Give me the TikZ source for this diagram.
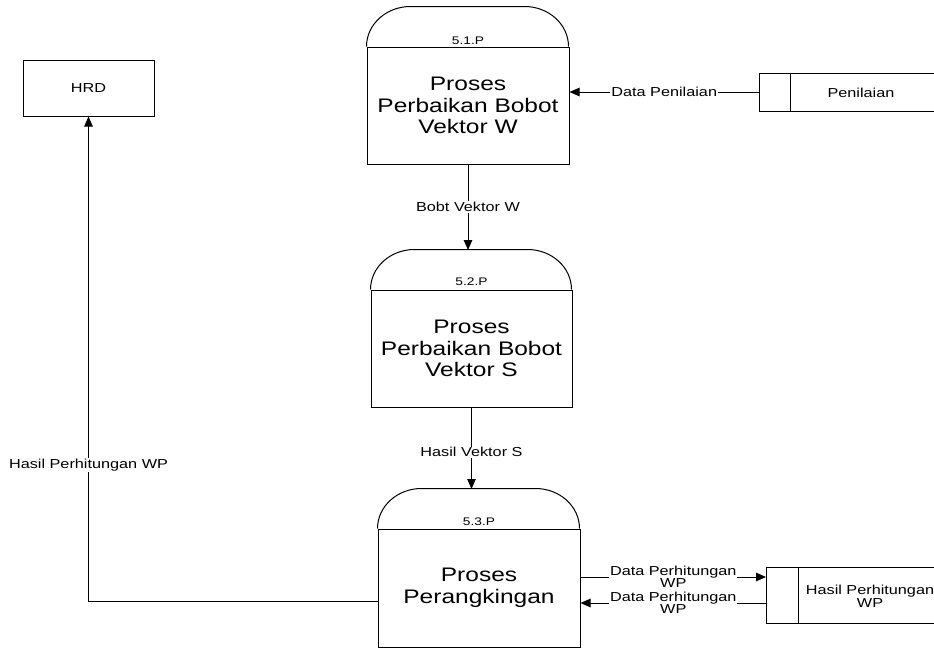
\documentclass[tikz,border=0pt]{standalone}
\usepackage{fontspec}
\setmainfont{Liberation Sans}[FakeStretch=1.25]
\usetikzlibrary{arrows.meta}
\begin{document}
\begin{tikzpicture}[x=1pt,y=-1pt,line width=1pt,
  proc/.style={draw, inner sep=0pt, align=center, font=\fontsize{19.6}{21.5}\selectfont},
  ent/.style={draw, inner sep=0pt, font=\fontsize{13}{13}\selectfont},
  lbl/.style={fill=white, inner sep=1pt, align=center, font=\fontsize{13}{12.5}\selectfont},
  hdr/.style={font=\fontsize{11}{11}\selectfont, anchor=base, inner sep=0pt},
  stxt/.style={inner sep=0pt, align=center, font=\fontsize{13}{13}\selectfont},
  arr/.style={-{Triangle[length=10pt,width=8.5pt]}}
]
\useasboundingbox (0,0) rectangle (934,648);

% processes
\node[proc, minimum width=202pt, minimum height=117pt] (p1) at (468,105.5) {Proses\\Perbaikan Bobot\\Vektor W};
\node[proc, minimum width=201pt, minimum height=117pt] (p2) at (471.5,348.5) {Proses\\Perbaikan Bobot\\Vektor S};
\node[proc, minimum width=202pt, minimum height=118pt] (p3) at (479,588) {Proses\\Perangkingan};

\foreach \p/\w in {p1/202,p2/201,p3/202}{
  \draw (\p.north west) arc[start angle=180,end angle=90,x radius=44pt,y radius=40pt]
     -- ++({\w-88},0) arc[start angle=90,end angle=0,x radius=44pt,y radius=40pt];
}
\node[hdr] (h1) at ([yshift=2.5pt]p1.north) {5.1.P};
\node[hdr] (h2) at ([yshift=4pt]p2.north) {5.2.P};
\node[hdr] (h3) at ([yshift=3.5pt]p3.north) {5.3.P};

\coordinate (t2) at (468,250);
\coordinate (t3) at (471.5,489);

% external entity
\node[ent, minimum width=131pt, minimum height=56pt] (hrd) at (88.5,88) {HRD};

% data stores
\node[stxt] (s1) at (861,93) {Penilaian};
\draw (934,73) -- (759,73) -- (759,111) -- (934,111);
\draw (790,73) -- (790,111);
\coordinate (s1w) at (759,92);

\node[stxt] (s2) at (870,596.5) {Hasil Perhitungan\\WP};
\draw (934,567) -- (766,567) -- (766,623) -- (934,623);
\draw (798,567) -- (798,623);
\coordinate (s2a) at (766,577);
\coordinate (s2b) at (766,603);

% flows
\draw[arr] (s1w) -- node[lbl]{Data Penilaian} (p1.east |- s1w);
\draw[arr] (p1.south) -- node[lbl]{Bobt Vektor W} (t2);
\draw[arr] (p2.south) -- node[lbl,pos=0.55]{Hasil Vektor S} (t3);
\draw[arr] (p3.east |- s2a) -- node[lbl]{Data Perhitungan\\WP} (s2a);
\draw[arr] (s2b) -- node[lbl]{Data Perhitungan\\WP} (p3.east |- s2b);
\coordinate (p3l) at (378,601);
\draw[arr] (p3l) -| node[lbl,pos=0.64]{Hasil Perhitungan WP} (hrd.south);
\end{tikzpicture}
\end{document}
